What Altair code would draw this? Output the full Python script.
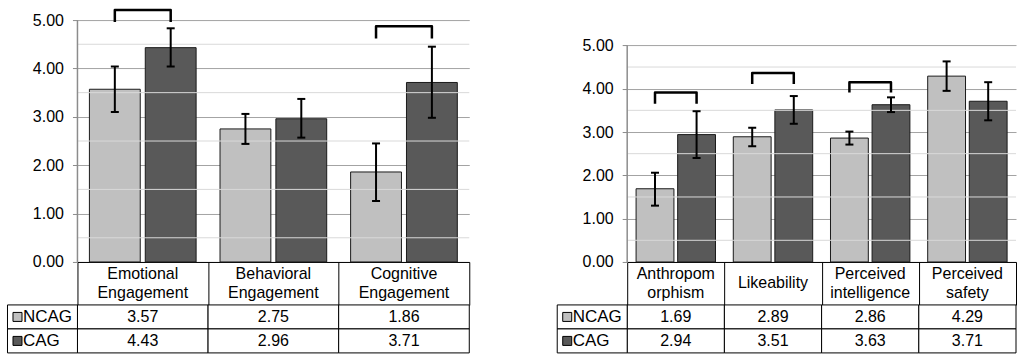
import altair as alt
import pandas as pd

# ---------------- data ----------------
SERIES = ["NCAG", "CAG"]
COLORS = ["#c0c0c0", "#595959"]

left_categories = ["Emotional|Engagement", "Behavioral|Engagement", "Cognitive|Engagement"]
left_ncag = [3.57, 2.75, 1.86]
left_cag = [4.43, 2.96, 3.71]
left_ncag_low = [3.10, 2.44, 1.26]
left_ncag_high = [4.04, 3.06, 2.45]
left_cag_low = [4.04, 2.57, 2.98]
left_cag_high = [4.83, 3.37, 4.45]
left_bracket_cats = ["Emotional|Engagement", "Cognitive|Engagement"]
left_bracket_top = [5.21, 4.87]
left_bracket_bottom = [4.96, 4.62]

right_categories = ["Anthropom|orphism", "Likeability", "Perceived|intelligence", "Perceived|safety"]
right_ncag = [1.69, 2.89, 2.86, 4.29]
right_cag = [2.94, 3.51, 3.63, 3.71]
right_ncag_low = [1.30, 2.67, 2.71, 3.95]
right_ncag_high = [2.06, 3.10, 3.01, 4.63]
right_cag_low = [2.40, 3.19, 3.46, 3.27]
right_cag_high = [3.48, 3.83, 3.80, 4.15]
right_bracket_cats = ["Anthropom|orphism", "Likeability", "Perceived|intelligence"]
right_bracket_top = [3.91, 4.36, 4.15]
right_bracket_bottom = [3.65, 4.11, 3.91]

y_ticks = [0, 1, 2, 3, 4, 5]
y_minor = [0.5, 1.5, 2.5, 3.5, 4.5]

# ---------------- layout ----------------
PLOT_H = 242
HEADER_H = 43
ROW_H = 24
LINE_H = 19.5
LABEL_W = 70
FONT = "Liberation Sans"


def make_panel(cats, ncag, cag, nlo, nhi, clo, chi, bcats, btop, bbot,
               width, ymax):
    n = len(cats)
    bars_df = pd.DataFrame({
        "cat": cats * 2,
        "series": ["NCAG"] * n + ["CAG"] * n,
        "value": ncag + cag,
        "low": nlo + clo,
        "high": nhi + chi,
    })
    rows = []
    for i, (c, t, b) in enumerate(zip(bcats, btop, bbot)):
        rows += [
            {"cat": c, "series": "NCAG", "y": b, "ord": 0, "bid": i},
            {"cat": c, "series": "NCAG", "y": t, "ord": 1, "bid": i},
            {"cat": c, "series": "CAG", "y": t, "ord": 2, "bid": i},
            {"cat": c, "series": "CAG", "y": b, "ord": 3, "bid": i},
        ]
    br_df = pd.DataFrame(rows)

    yscale = alt.Scale(domain=[0, ymax], nice=False, zero=True)
    xscale = alt.Scale(domain=cats, paddingInner=0, paddingOuter=0)
    offscale = alt.Scale(domain=SERIES, paddingInner=0.09, paddingOuter=0.214)
    cscale = alt.Scale(domain=SERIES, range=COLORS)

    # x axis draws the header row frame (top line + cell dividers)
    x_axis = alt.Axis(
        title=None, orient="bottom", domain=True, domainColor="black",
        domainWidth=1, ticks=True, tickBand="extent", tickSize=HEADER_H,
        tickColor="black", tickWidth=1, labels=False, grid=False,
    )
    y_axis = alt.Axis(
        title=None, values=y_ticks, format=".2f", labelFontSize=16,
        labelColor="black", tickSize=5, tickColor="#8c8c8c", tickWidth=1,
        labelPadding=9, domain=False, grid=True, gridColor="#a3a3a3",
        gridWidth=1, labelFont=FONT,
    )

    def X():
        return alt.X("cat:N", scale=xscale, axis=x_axis)

    def Y(field):
        return alt.Y(field, scale=yscale, axis=y_axis)

    xo = alt.XOffset("series:N", scale=offscale)

    bars = alt.Chart(bars_df).mark_bar(stroke="#1a1a1a", strokeWidth=1).encode(
        x=X(), xOffset=xo, y=Y("value:Q"),
        color=alt.Color("series:N", scale=cscale, legend=None),
    )
    minor = alt.Chart(pd.DataFrame({"m": y_minor})).mark_rule(
        color="#d9d9d9", strokeWidth=1
    ).encode(y=Y("m:Q"))
    axis_line = alt.Chart(pd.DataFrame({"a": [y_ticks[0]], "b": [y_ticks[-1]]})).mark_rule(
        color="#8c8c8c", strokeWidth=1.5
    ).encode(x=alt.value(0), y=Y("a:Q"), y2="b:Q")
    err = alt.Chart(bars_df).mark_rule(color="black", strokeWidth=2).encode(
        x=X(), xOffset=xo, y=Y("low:Q"), y2="high:Q"
    )
    cap_lo = alt.Chart(bars_df).mark_tick(
        orient="horizontal", size=8, thickness=2, color="black", opacity=1
    ).encode(x=X(), xOffset=xo, y=Y("low:Q"))
    cap_hi = alt.Chart(bars_df).mark_tick(
        orient="horizontal", size=8, thickness=2, color="black", opacity=1
    ).encode(x=X(), xOffset=xo, y=Y("high:Q"))
    brackets = alt.Chart(br_df).mark_line(
        color="black", strokeWidth=2.5, strokeJoin="round"
    ).encode(
        x=X(), xOffset=xo, y=Y("y:Q"), detail="bid:N", order="ord:Q",
    )

    top = alt.layer(bars, minor, axis_line, err, cap_lo, cap_hi, brackets).properties(
        width=width, height=PLOT_H
    )

    # header row: category names, one text per line, centred in the cell
    hrows = []
    for c in cats:
        parts = c.split("|")
        k = len(parts)
        for j, p in enumerate(parts):
            hrows.append({"cat": c, "line": p, "pos": (k - 1) / 2 - j})
    head_df = pd.DataFrame(hrows)
    half = HEADER_H / 2 / LINE_H
    header = alt.Chart(head_df).mark_text(
        fontSize=16, color="black", font=FONT, baseline="middle"
    ).encode(
        x=alt.X("cat:N", scale=alt.Scale(domain=cats, paddingInner=0, paddingOuter=0), axis=None),
        y=alt.Y("pos:Q", scale=alt.Scale(domain=[-half, half], nice=False, zero=False), axis=None),
        text="line:N",
    ).properties(width=width, height=HEADER_H)

    # data table
    tab_df = pd.DataFrame({
        "cat": cats * 2,
        "series": ["NCAG"] * n + ["CAG"] * n,
        "value": ncag + cag,
    })
    lab_df = pd.DataFrame({"series": SERIES})
    tx = alt.X("cat:N", scale=alt.Scale(domain=cats, paddingInner=0, paddingOuter=0), axis=None)
    ty = alt.Y("series:N", scale=alt.Scale(domain=SERIES, paddingInner=0, paddingOuter=0), axis=None)

    cells = alt.Chart(tab_df).mark_rect(fill="white", stroke="black", strokeWidth=1).encode(x=tx, y=ty)
    vals = alt.Chart(tab_df).mark_text(fontSize=16, color="black", font=FONT).encode(
        x=tx, y=ty, text=alt.Text("value:Q", format=".2f")
    )
    lcells = alt.Chart(lab_df).mark_rect(fill="white", stroke="black", strokeWidth=1).encode(
        x=alt.value(-LABEL_W), x2=alt.value(0), y=ty
    )
    ltext = alt.Chart(lab_df).mark_text(align="left", fontSize=17, color="black", font=FONT).encode(
        x=alt.value(-LABEL_W + 15.5), y=ty, text="series:N"
    )
    lsq = alt.Chart(lab_df).mark_square(size=81, stroke="black", strokeWidth=1, opacity=1, filled=True).encode(
        x=alt.value(-LABEL_W + 10), y=ty,
        color=alt.Color("series:N", scale=cscale, legend=None),
    )
    table = alt.layer(cells, vals, lcells, ltext, lsq).properties(width=width, height=2 * ROW_H)

    return top, header, table


left_top, left_head, left_table = make_panel(
    left_categories, left_ncag, left_cag, left_ncag_low, left_ncag_high,
    left_cag_low, left_cag_high, left_bracket_cats, left_bracket_top,
    left_bracket_bottom, width=392, ymax=5)
right_top, right_head, right_table = make_panel(
    right_categories, right_ncag, right_cag, right_ncag_low, right_ncag_high,
    right_cag_low, right_cag_high, right_bracket_cats, right_bracket_top,
    right_bracket_bottom, width=389, ymax=5.584)

chart = alt.concat(
    left_top, right_top, left_head, right_head, left_table, right_table,
    columns=2, bounds="flush", align="each",
    spacing={"row": 0, "column": 158},
).resolve_scale(
    xOffset="independent", x="independent", y="independent"
).properties(
    padding={"left": 6.5, "top": 8, "right": 0, "bottom": 0},
    background="white",
).configure(font=FONT).configure_view(stroke=None)

chart.save("out.html", embed_options={"renderer": "svg", "actions": False})
